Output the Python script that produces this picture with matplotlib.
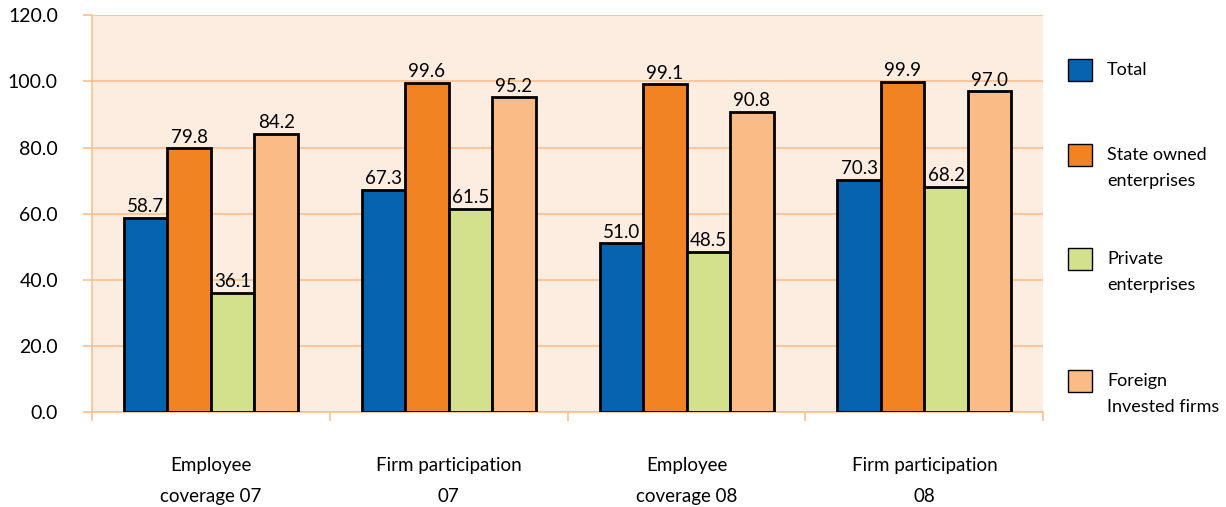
import numpy as np
import matplotlib
matplotlib.use('Agg')
import matplotlib.pyplot as plt
from matplotlib.patches import Rectangle

plt.rcParams['font.family'] = ['Lato', 'DejaVu Sans']

# 数据
categories = ['Employee\ncoverage 07', 'Firm participation\n07',
              'Employee\ncoverage 08', 'Firm participation\n08']
series_names = ['Total', 'State owned\nenterprises', 'Private\nenterprises',
                'Foreign\nInvested firms']
total = [58.7, 67.3, 51.0, 70.3]
state_owned = [79.8, 99.6, 99.1, 99.9]
private = [36.1, 61.5, 48.5, 68.2]
foreign = [84.2, 95.2, 90.8, 97.0]
yticks = [0, 20, 40, 60, 80, 100, 120]

colors = ['#0563B0', '#F28322', '#D4E18C', '#FABB87']
bg = '#FDEDE0'
grid_c = '#F9C08E'

fig = plt.figure(figsize=(12.26, 5.07), dpi=100)
ax = fig.add_axes([0.075, 0.187, 0.776, 0.783])
ax.set_facecolor(bg)

x = np.arange(len(categories))
width = 0.183
series = [total, state_owned, private, foreign]
for i, vals in enumerate(series):
    pos = x + (i - 1.5) * width
    ax.bar(pos, vals, width, color=colors[i], edgecolor='black', linewidth=2.0, zorder=3)
    for p, v in zip(pos, vals):
        ax.text(p, v + 0.8, f'{v:.1f}', ha='center', va='bottom', fontsize=13.5, zorder=4)

ax.set_ylim(0, 120)
ax.set_xlim(-0.5, len(categories) - 0.5)
ax.set_yticks(yticks)
ax.set_yticklabels([f'{t:.1f}' for t in yticks], fontsize=14)
ax.yaxis.grid(True, color=grid_c, linewidth=1.2, zorder=0)
ax.set_axisbelow(True)

# x轴: 分类标签在中间, 分隔刻度在边界
ax.set_xticks(x)
ax.set_xticklabels(categories, fontsize=13.5, linespacing=2.0)
ax.set_xticks(np.arange(len(categories) + 1) - 0.5, minor=True)
ax.tick_params(axis='x', which='major', length=0, pad=32)
ax.tick_params(axis='x', which='minor', length=6.5, color=grid_c, width=1.2)
ax.tick_params(axis='y', length=6.5, color=grid_c, width=1.2, pad=18)

for s in ['top', 'right']:
    ax.spines[s].set_visible(False)
for s in ['left', 'bottom']:
    ax.spines[s].set_color(grid_c)
    ax.spines[s].set_linewidth(1.2)

# 图例 (方块与第一行文字对齐)
W, H = 1226, 507
leg_y = [70, 155, 259, 381]
for name, c, yy in zip(series_names, colors, leg_y):
    fig.patches.append(Rectangle((1068 / W, 1 - (yy + 11) / H), 24 / W, 22 / H,
                                 transform=fig.transFigure, facecolor=c,
                                 edgecolor='black', linewidth=1.0))
    fig.text(1107 / W, 1 - (yy - 8) / H, name, fontsize=13, va='top', ha='left',
             linespacing=1.8)

fig.savefig('out.png', dpi=100)
